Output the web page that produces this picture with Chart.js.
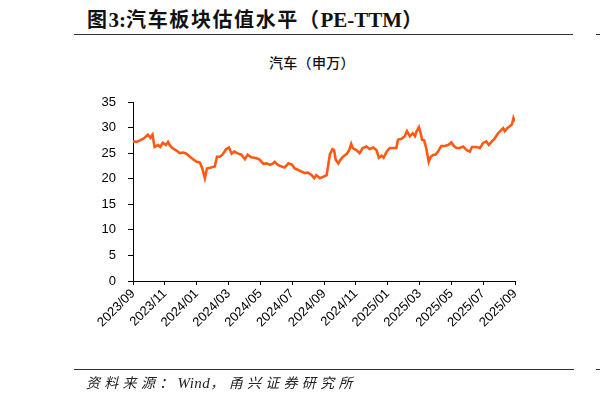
<!DOCTYPE html>
<html>
<head>
<meta charset="utf-8">
<script src="https://cdn.jsdelivr.net/npm/chart.js@4"></script>
<style>
  html, body { margin: 0; padding: 0; background: #fff; }
  #wrap { position: relative; width: 600px; height: 398px; overflow: hidden; background: #fff; }
  #title { position: absolute; left: 87px; top: 4px; font-family: "Noto Sans CJK SC", sans-serif; font-weight: 700; font-size: 20px; letter-spacing: 1.6px; color: #111; white-space: nowrap; }
  #title .lat { font-family: "Liberation Serif", serif; font-weight: 700; font-size: 21px; letter-spacing: 0; }
  .rule { position: absolute; height: 1.5px; background: #333; }
  #subtitle { position: absolute; left: 269px; top: 52px; font-family: "Noto Sans CJK SC", sans-serif; font-weight: 500; font-size: 14px; letter-spacing: 0.3px; color: #111; white-space: nowrap; }
  #source { position: absolute; left: 86px; top: 372px; font-family: "Noto Sans CJK SC", sans-serif; font-style: italic; font-size: 14px; letter-spacing: 4.3px; color: #222; white-space: nowrap; }
  #source .lat { font-family: "Liberation Serif", serif; font-size: 15px; letter-spacing: 0.5px; }
  #c { position: absolute; left: 0; top: 0; }
</style>
</head>
<body>
<div id="wrap">
  <div id="title">图<span class="lat">3:</span>汽车板块估值水平（<span class="lat">PE-TTM</span>）</div>
  <div class="rule" style="left:74px; top:33.5px; width:499px;"></div>
  <div class="rule" style="left:596px; top:33.5px; width:4px;"></div>
  <div id="subtitle">汽车（申万）</div>
  <canvas id="c" width="600" height="398"></canvas>
  <div class="rule" style="left:74px; top:368.5px; width:500px;"></div>
  <div class="rule" style="left:596px; top:368.5px; width:4px;"></div>
  <div id="source">资料来源：<span class="lat">Wind</span>，甬兴证券研究所</div>
</div>
<script>
// ---- data ----
const seriesName = "汽车（申万）";
const tickLabels = ["2023/09","2023/11","2024/01","2024/03","2024/05","2024/07","2024/09",
                    "2024/11","2025/01","2025/03","2025/05","2025/07","2025/09"];
const dates = [
 "2023-09-01","2023-09-08","2023-09-14","2023-09-23","2023-09-29","2023-10-04","2023-10-08","2023-10-12",
 "2023-10-19","2023-10-23","2023-10-28","2023-11-03","2023-11-07","2023-11-10","2023-11-15","2023-11-23",
 "2023-11-29","2023-12-06","2023-12-12","2023-12-19","2023-12-25","2024-01-01","2024-01-07","2024-01-12",
 "2024-01-17","2024-01-21","2024-01-29","2024-02-05","2024-02-09","2024-02-14","2024-02-19","2024-02-26",
 "2024-03-02","2024-03-07","2024-03-12","2024-03-20","2024-03-26","2024-04-02","2024-04-07","2024-04-14",
 "2024-04-24","2024-04-30","2024-05-07","2024-05-13","2024-05-20","2024-05-26","2024-05-29","2024-06-04",
 "2024-06-11","2024-06-17","2024-06-24","2024-07-01","2024-07-06","2024-07-13","2024-07-19","2024-07-26",
 "2024-08-01","2024-08-08","2024-08-13","2024-08-17","2024-08-24","2024-08-31","2024-09-06","2024-09-09",
 "2024-09-12","2024-09-17","2024-09-20","2024-09-23","2024-09-28","2024-10-02","2024-10-07","2024-10-14",
 "2024-10-19","2024-10-23","2024-10-26","2024-11-02","2024-11-08","2024-11-14","2024-11-21","2024-11-27",
 "2024-12-04","2024-12-10","2024-12-15","2024-12-20","2024-12-24","2024-12-30","2025-01-05","2025-01-11",
 "2025-01-18","2025-01-21","2025-01-28","2025-02-03","2025-02-07","2025-02-12","2025-02-17","2025-02-21",
 "2025-02-24","2025-02-28","2025-03-04","2025-03-06","2025-03-10","2025-03-14","2025-03-19","2025-03-23",
 "2025-03-28","2025-04-01","2025-04-06","2025-04-12","2025-04-18","2025-04-25","2025-05-01","2025-05-06",
 "2025-05-11","2025-05-17","2025-05-24","2025-05-31","2025-06-06","2025-06-10","2025-06-18","2025-06-25",
 "2025-07-01","2025-07-07","2025-07-12","2025-07-18","2025-07-23","2025-07-30","2025-08-04","2025-08-09",
 "2025-08-12","2025-08-17","2025-08-21","2025-08-26","2025-08-29","2025-09-01"
];
const peValues = [
 27.3,27.2,27.5,28.0,28.6,28.0,28.6,26.2,
 26.6,26.2,27.0,26.6,27.2,26.6,26.0,25.5,
 25.0,25.1,24.9,24.3,23.8,23.3,23.2,22.0,
 20.1,22.0,22.2,22.4,24.3,24.3,24.7,25.8,
 26.1,24.9,25.3,24.9,24.7,23.8,24.7,24.2,
 24.0,23.7,22.9,23.0,22.7,23.0,23.3,22.7,
 22.4,22.2,23.0,22.7,22.0,21.7,21.4,21.1,
 21.2,20.7,20.1,20.7,20.1,20.4,20.7,22.7,
 24.7,25.8,25.6,23.7,23.0,23.7,24.3,24.8,
 25.6,26.8,26.0,25.6,25.0,26.0,26.3,25.8,
 26.1,25.6,24.1,24.5,24.1,25.3,26.0,26.0,
 26.0,27.6,27.8,28.3,29.3,28.3,28.9,28.3,
 29.3,30.1,28.6,27.6,27.5,26.0,23.3,24.3,
 24.7,24.7,25.3,26.4,26.4,26.6,27.1,26.4,
 26.0,26.0,26.3,25.6,25.3,26.2,26.2,26.0,
 27.0,27.3,26.6,27.3,27.8,28.9,29.4,29.9,
 29.3,29.9,30.2,30.6,31.9,31.2
];
const yTicks = [0,5,10,15,20,25,30,35];

// months elapsed since the first tick label (2023/09)
function monthOffset(d) {
  const [y, m, day] = d.split("-").map(Number);
  const dim = new Date(y, m, 0).getDate();
  return (y - 2023) * 12 + (m - 9) + (day - 1) / dim;
}
const points = dates.map((d, i) => ({ x: monthOffset(d), y: peValues[i] }));

const axisFont = { family: "'Liberation Sans', Arial, sans-serif", size: 13 };

new Chart(document.getElementById("c"), {
  type: "line",
  data: {
    datasets: [{
      label: seriesName,
      data: points,
      borderColor: "#FF5A14",
      borderWidth: 2.6,
      pointRadius: 0,
      tension: 0,
      fill: false
    }]
  },
  options: {
    responsive: false,
    animation: false,
    events: [],
    layout: { padding: { top: 102, right: 85, left: 0, bottom: 0 } },
    plugins: { legend: { display: false }, tooltip: { enabled: false }, title: { display: false } },
    scales: {
      x: {
        type: "linear",
        min: 0,
        max: (tickLabels.length - 1) * 2,
        afterBuildTicks: (s) => { s.ticks = tickLabels.map((_, i) => ({ value: i * 2 })); },
        afterFit: (s) => { s.height = 117; },
        ticks: {
          autoSkip: false,
          maxRotation: 45,
          minRotation: 45,
          padding: 1,
          color: "#000",
          font: axisFont,
          callback: (v) => tickLabels[Math.round(v / 2)]
        },
        grid: { display: true, drawOnChartArea: false, drawTicks: true, tickLength: 4, color: "#000", lineWidth: 1 },
        border: { display: true, color: "#000", width: 1 }
      },
      y: {
        min: 0,
        max: 35,
        afterBuildTicks: (s) => { s.ticks = yTicks.map(v => ({ value: v })); },
        afterFit: (s) => { s.width = 133; },
        ticks: { color: "#000", font: axisFont, padding: 12 },
        grid: { display: true, drawOnChartArea: false, drawTicks: true, tickLength: 5, color: "#000", lineWidth: 1 },
        border: { display: true, color: "#000", width: 1 }
      }
    }
  }
});
</script>
</body>
</html>
